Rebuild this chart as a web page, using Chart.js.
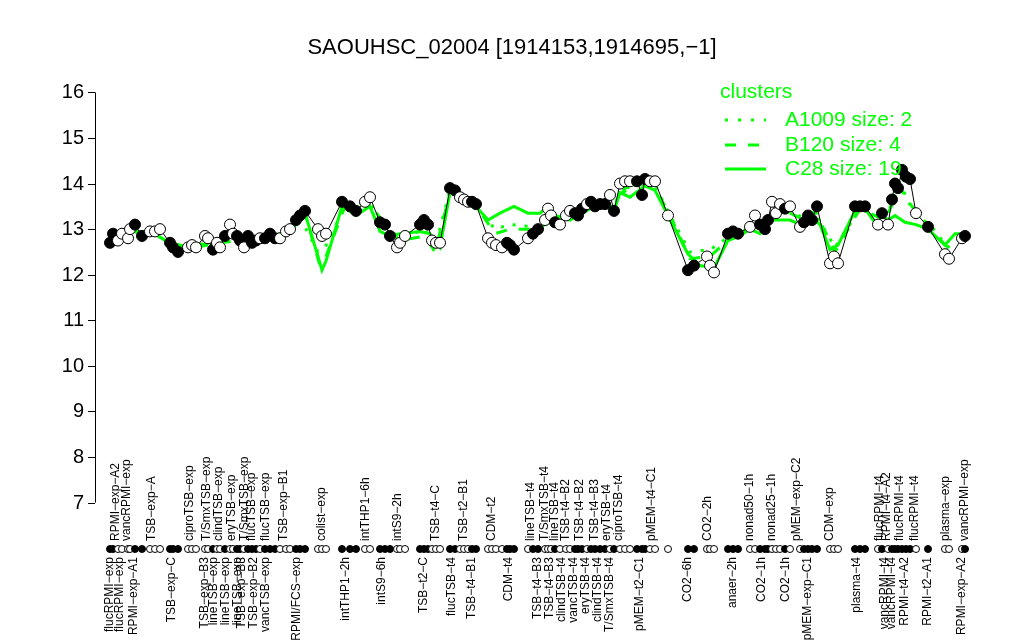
<!DOCTYPE html>
<html>
<head>
<meta charset="utf-8">
<script src="https://cdn.jsdelivr.net/npm/chart.js@4/dist/chart.umd.min.js"></script>
<style>
  html, body { margin: 0; padding: 0; background: #fff; }
  #wrap { width: 1024px; height: 640px; }
</style>
</head>
<body>
<div id="wrap"><canvas id="chart" width="1024" height="640"></canvas></div>
<script>
// condition positions (index units) and expression values
const posX = [0, 0.6, 1.6, 2.4, 3.6, 4, 5, 6.4, 8, 9, 10, 12, 12.6, 13.6, 15.6, 16.4, 17.2, 19, 19.6, 20.6,
  21.4, 22, 23, 24, 24.6, 25.4, 26, 26.8, 27.6, 28.4, 29.2, 30, 31, 32, 33, 34, 35.2, 36, 37.2, 38,
  39, 41.6, 42.4, 43.2, 46.4, 48, 49.2, 51, 52, 54, 55, 56, 57.4, 58, 59, 62, 62.8, 63.6, 64.4, 65.2,
  66, 68, 69, 70, 70.8, 71.6, 72.4, 73.2, 75.6, 76.4, 77.2, 78.4, 79.4, 80, 80.8, 83.6, 84.6, 85.6, 87, 87.6,
  88.2, 89, 90, 91.2, 92, 93, 93.6, 94.4, 95.4, 96.2, 97, 98, 99, 100, 100.8, 102, 103, 104, 105.4, 106.4,
  107, 108, 109, 111.6, 115.6, 116.8, 119.4, 120, 120.8, 123.6, 124.6, 125.6, 128, 129, 130, 131, 131.6, 132.4, 133.2, 134,
  135, 136, 138, 138.8, 139.6, 140.4, 141.4, 144, 144.8, 145.6, 149, 150, 151, 153.6, 154.4, 155.6, 156.4, 157, 157.6, 158.4,
  159.2, 160, 161.2, 163.6, 167, 167.8, 170.4, 171];
const values = [12.7, 12.9, 12.75, 12.9, 12.8, 13.0, 13.1, 12.85, 12.95, 12.95, 13.0, 12.7, 12.6, 12.5, 12.6, 12.65, 12.6, 12.85, 12.8, 12.55,
  12.7, 12.6, 12.85, 13.1, 12.9, 12.85, 12.75, 12.6, 12.85, 12.7, 12.75, 12.8, 12.8, 12.9, 12.8, 12.8, 12.95, 13.0, 13.2, 13.3,
  13.4, 13.0, 12.85, 12.9, 13.6, 13.5, 13.4, 13.6, 13.7, 13.15, 13.1, 12.85, 12.6, 12.7, 12.85, 13.1, 13.2, 13.1, 12.75, 12.7,
  12.7, 13.9, 13.85, 13.7, 13.65, 13.6, 13.6, 13.55, 12.8, 12.7, 12.65, 12.6, 12.7, 12.65, 12.55, 12.8, 12.9, 13.0, 13.2, 13.45,
  13.3, 13.15, 13.1, 13.3, 13.4, 13.35, 13.3, 13.45, 13.55, 13.6, 13.5, 13.55, 13.55, 13.75, 13.4, 14.0, 14.05, 14.05, 14.05, 13.75,
  14.1, 14.05, 14.05, 13.3, 12.1, 12.2, 12.4, 12.2, 12.05, 12.9, 12.95, 12.9, 13.05, 13.3, 13.1, 13.0, 13.2, 13.6, 13.35, 13.55,
  13.45, 13.5, 13.05, 13.15, 13.3, 13.2, 13.5, 12.25, 12.4, 12.25, 13.5, 13.5, 13.5, 13.1, 13.35, 13.1, 13.65, 14.0, 13.9, 14.3,
  14.15, 14.1, 13.35, 13.05, 12.45, 12.35, 12.8, 12.85];
const filled = [1, 1, 0, 0, 0, 0, 1, 1, 0, 0, 0, 1, 1, 1, 0, 0, 0, 0, 0, 1,
  0, 0, 1, 0, 0, 1, 1, 0, 1, 1, 1, 0, 1, 1, 1, 0, 0, 0, 1, 1,
  1, 0, 0, 0, 1, 1, 1, 0, 0, 1, 1, 1, 0, 0, 0, 1, 1, 1, 0, 0,
  0, 1, 1, 0, 0, 0, 1, 1, 0, 0, 0, 0, 1, 1, 1, 0, 1, 1, 0, 0,
  0, 1, 0, 0, 0, 1, 1, 1, 0, 1, 1, 1, 1, 0, 1, 0, 0, 0, 1, 1,
  1, 0, 0, 0, 1, 1, 0, 0, 0, 1, 1, 1, 0, 0, 1, 1, 1, 0, 0, 0,
  1, 0, 0, 1, 1, 1, 1, 0, 0, 0, 1, 1, 1, 0, 1, 0, 1, 1, 1, 1,
  1, 1, 0, 1, 0, 0, 0, 1];

// cluster profiles
const a1009X = [0, 5, 9, 13, 17, 22, 26, 30, 34, 38, 41.6, 43, 47, 52, 55, 58, 63, 65, 68, 73,
  77, 80, 85, 89, 93, 97, 101, 104, 107, 109, 112, 116, 120, 124, 130, 135, 139, 141, 145, 150,
  155, 158, 161, 164, 167.5, 171];
const a1009Y = [12.9, 13.0, 12.95, 12.6, 12.65, 12.75, 12.8, 12.8, 12.85, 13.25, 12.5, 12.6, 13.5, 13.55, 13.1, 12.8, 13.0, 12.6, 13.85, 13.5,
  13.0, 13.1, 13.05, 13.25, 13.3, 13.5, 13.6, 13.95, 14.0, 13.95, 13.3, 12.5, 12.55, 12.85, 13.1, 13.4, 13.25, 13.35, 12.6, 13.45,
  13.2, 14.0, 13.3, 13.1, 12.6, 12.85];
const b120X = [0, 4, 9, 13, 17, 22, 26, 30, 34, 38, 39, 42, 43.2, 47, 52, 55, 58, 63, 65, 68,
  73, 77, 80, 85, 89, 93, 97, 101, 103, 107, 109, 112, 116, 120, 124, 130, 135, 139, 141, 145,
  150, 155, 158, 161, 164, 167.5, 171];
const b120Y = [12.85, 12.95, 12.9, 12.6, 12.6, 12.7, 12.75, 12.75, 12.8, 13.2, 13.35, 12.2, 12.4, 13.5, 13.6, 13.05, 12.75, 12.85, 12.5, 13.8,
  13.55, 12.9, 13.0, 13.0, 13.2, 13.3, 13.5, 13.5, 13.9, 13.95, 13.9, 13.3, 12.35, 12.4, 12.8, 13.1, 13.4, 13.2, 13.4, 12.5,
  13.45, 13.2, 13.9, 13.4, 13.0, 12.6, 12.85];
const c28X = [0, 4, 8, 12, 16, 20, 24, 26, 30, 34, 36, 38, 39, 41.6, 42.4, 43.2, 46.4, 49.2, 52, 54,
  56, 58, 62, 64, 66, 68, 70, 73.2, 75.6, 78, 80.8, 83.6, 86, 87.6, 89, 92, 96, 99, 100.8, 102,
  104, 107, 109, 111.6, 115.6, 118, 120.8, 123.6, 126, 128, 130, 132, 136, 138, 140.4, 142, 144, 145.6, 149, 151,
  153.6, 157, 159, 161.2, 163.6, 167, 169, 171];
const c28Y = [12.95, 12.95, 12.95, 12.7, 12.6, 12.7, 12.9, 12.85, 12.75, 12.9, 12.95, 13.2, 13.35, 12.4, 12.1, 12.3, 13.5, 13.3, 13.5, 12.95,
  12.85, 12.9, 12.95, 12.9, 12.6, 13.8, 13.7, 13.5, 13.2, 13.35, 13.5, 13.35, 13.35, 13.5, 13.3, 13.2, 13.45, 13.5, 13.4, 13.8,
  13.7, 13.95, 13.85, 13.3, 12.45, 12.2, 12.15, 12.75, 12.85, 13.0, 12.9, 13.2, 13.2, 13.1, 13.25, 13.1, 12.55, 12.65, 13.4, 13.45,
  13.05, 13.3, 13.15, 13.1, 13.0, 12.65, 12.9, 12.9];

// axis labels (every other condition, as drawn)
const topLabels = ['RPMI\u2212exp\u2212A2', 'vancRPMI\u2212exp', 'TSB\u2212exp\u2212A', 'ciproTSB\u2212exp', 'T/SmxTSB\u2212exp', 'clindTSB\u2212exp',
  'eryTSB\u2212exp', 'T/SmxTSB\u2212exp', 'flucTSB\u2212exp', 'flucTSB\u2212exp', 'TSB\u2212exp\u2212B1', 'colist\u2212exp', 'intTHP1\u22126h',
  'intS9\u22122h', 'TSB\u2212t4\u2212C', 'TSB\u2212t2\u2212B1', 'CDM\u2212t2', 'lineTSB\u2212t4', 'T/SmxTSB\u2212t4', 'lineTSB\u2212t4',
  'TSB\u2212t4\u2212B2', 'TSB\u2212t4\u2212B2', 'TSB\u2212t4\u2212B3', 'eryTSB\u2212t4', 'ciproTSB\u2212t4', 'pMEM\u2212t4\u2212C1', 'CO2\u22122h',
  'nonad50\u22121h', 'nonad25\u22121h', 'pMEM\u2212exp\u2212C2', 'CDM\u2212exp', 'flucRPMI\u2212t4', 'RPMI\u2212t4\u2212A2', 'flucRPMI\u2212t4',
  'flucRPMI\u2212t4', 'plasma\u2212exp', 'vancRPMI\u2212exp'];
const topLabelX = [1.2, 3.4, 8.4, 16, 19.4, 21.8, 24.4, 27, 28.4, 31.2, 34.8, 42.4, 51.2, 57.6, 65.2, 70.8, 76.4, 84.2, 87, 89,
  91.2, 94, 97, 99.4, 101.8, 108.4, 119.6, 128, 132.4, 137.4, 144, 154, 155.4, 158, 161, 167.2, 171];
const bottomLabels = ['flucRPMI\u2212exp', 'flucRPMI\u2212exp', 'RPMI\u2212exp\u2212A1', 'TSB\u2212exp\u2212C', 'TSB\u2212exp\u2212B3', 'lineTSB\u2212exp',
  'lineTSB\u2212exp', 'lineTSB\u2212exp', 'TSB\u2212exp\u2212B3', 'TSB\u2212exp\u2212B2', 'vancTSB\u2212exp', 'RPMI/FCS\u2212exp', 'intTHP1\u22122h',
  'intS9\u22126h', 'TSB\u2212t2\u2212C', 'flucTSB\u2212t4', 'TSB\u2212t4\u2212B1', 'CDM\u2212t4', 'TSB\u2212t4\u2212B3', 'TSB\u2212t4\u2212B3',
  'clindTSB\u2212t4', 'vancTSB\u2212t4', 'eryTSB\u2212t4', 'clindTSB\u2212t4', 'T/SmxTSB\u2212t4', 'pMEM\u2212t2\u2212C1', 'CO2\u22126h',
  'anaer\u22122h', 'CO2\u22121h', 'CO2\u22121h', 'pMEM\u2212exp\u2212C1', 'plasma\u2212t4', 'vancRPMI\u2212t4', 'vancRPMI\u2212t4',
  'RPMI\u2212t4\u2212A2', 'RPMI\u2212t2\u2212A1', 'RPMI\u2212exp\u2212A2'];
const bottomLabelX = [0, 2, 4.8, 12.4, 19, 20.8, 23.2, 25.6, 26.4, 28.8, 31.2, 37.4, 47.2, 54.4, 62.8, 68.4, 72.4, 79.8, 85.6, 88,
  90.4, 92.8, 95.2, 97.6, 100, 106, 115.6, 124.6, 130.4, 135.2, 139.6, 149.4, 155, 156.4, 159, 163.6, 170.4];

const yTicks = [7, 8, 9, 10, 11, 12, 13, 14, 15, 16];
const clusterNames = ['A1009 size: 2', 'B120 size: 4', 'C28 size: 19'];

const GREEN = '#00ff00';
const FONT = '"Liberation Sans", Arial, Helvetica, sans-serif';

function pairs(xs, ys) {
    return xs.map((x, i) => ({ x: x, y: ys[i] }));
}

// draws title, y axis, rotated condition labels, dot strip and the cluster legend
const decorations = {
    id: 'decorations',
    afterDraw(chart) {
        const ctx = chart.ctx;
        const xs = chart.scales.x;
        const ys = chart.scales.y;
        const left = chart.chartArea.left;
        ctx.save();

        // title
        ctx.fillStyle = '#000';
        ctx.font = '22px ' + FONT;
        ctx.textAlign = 'center';
        ctx.textBaseline = 'middle';
        ctx.fillText('SAOUHSC_02004 [1914153,1914695,\u22121]', 512, 48);

        // y axis
        ctx.strokeStyle = '#000';
        ctx.lineWidth = 1;
        ctx.beginPath();
        ctx.moveTo(left + 0.5, ys.getPixelForValue(yTicks[0]));
        ctx.lineTo(left + 0.5, ys.getPixelForValue(yTicks[yTicks.length - 1]));
        ctx.stroke();
        ctx.font = '20px ' + FONT;
        ctx.textAlign = 'right';
        yTicks.forEach(t => {
            const py = Math.round(ys.getPixelForValue(t)) + 0.5;
            ctx.beginPath();
            ctx.moveTo(left, py);
            ctx.lineTo(left - 7, py);
            ctx.stroke();
            ctx.fillText(String(t), left - 11, py);
        });

        // rotated labels
        ctx.font = '12px ' + FONT;
        ctx.textBaseline = 'middle';
        topLabels.forEach((lab, i) => {
            ctx.save();
            ctx.translate(xs.getPixelForValue(topLabelX[i]), 541);
            ctx.rotate(-Math.PI / 2);
            ctx.textAlign = 'left';
            ctx.fillText(lab, 0, 0);
            ctx.restore();
        });
        bottomLabels.forEach((lab, i) => {
            ctx.save();
            ctx.translate(xs.getPixelForValue(bottomLabelX[i]), 557);
            ctx.rotate(-Math.PI / 2);
            ctx.textAlign = 'right';
            ctx.fillText(lab, 0, 0);
            ctx.restore();
        });

        // dot strip
        posX.forEach((x, i) => {
            ctx.beginPath();
            ctx.arc(xs.getPixelForValue(x), 549, 3.5, 0, Math.PI * 2);
            ctx.fillStyle = filled[i] ? '#000' : '#fff';
            ctx.fill();
            ctx.stroke();
        });

        // legend
        ctx.fillStyle = GREEN;
        ctx.strokeStyle = GREEN;
        ctx.font = '21px ' + FONT;
        ctx.textAlign = 'left';
        ctx.fillText('clusters', 720, 92);
        const dashes = [[3, 10], [11, 12], []];
        const rowsY = [120, 145, 169];
        clusterNames.forEach((name, i) => {
            ctx.setLineDash(dashes[i]);
            ctx.lineWidth = 3;
            ctx.beginPath();
            ctx.moveTo(725, rowsY[i]);
            ctx.lineTo(766, rowsY[i]);
            ctx.stroke();
            ctx.setLineDash([]);
            ctx.fillText(name, 785, rowsY[i]);
        });
        ctx.restore();
    }
};

new Chart(document.getElementById('chart').getContext('2d'), {
    type: 'scatter',
    data: {
        datasets: [
            {
                label: 'SAOUHSC_02004',
                data: pairs(posX, values),
                showLine: true,
                borderColor: '#000',
                borderWidth: 1,
                pointRadius: 5.5,
                pointBorderWidth: 1,
                pointBorderColor: '#000',
                pointBackgroundColor: filled.map(f => f ? '#000' : '#fff')
            },
            {
                label: clusterNames[0],
                data: pairs(a1009X, a1009Y),
                showLine: true,
                borderColor: GREEN,
                borderWidth: 3,
                borderDash: [3, 9],
                pointRadius: 0
            },
            {
                label: clusterNames[1],
                data: pairs(b120X, b120Y),
                showLine: true,
                borderColor: GREEN,
                borderWidth: 3,
                borderDash: [11, 12],
                pointRadius: 0
            },
            {
                label: clusterNames[2],
                data: pairs(c28X, c28Y),
                showLine: true,
                borderColor: GREEN,
                borderWidth: 3,
                pointRadius: 0
            }
        ]
    },
    options: {
        responsive: false,
        animation: false,
        layout: { padding: { left: 95, right: 39, top: 76, bottom: 121 } },
        plugins: {
            legend: { display: false },
            tooltip: { enabled: false },
            title: { display: false }
        },
        scales: {
            x: { type: 'linear', min: -3, max: 175, display: false },
            y: { type: 'linear', min: 6.64, max: 16.36, display: false }
        }
    },
    plugins: [decorations]
});
</script>
</body>
</html>
